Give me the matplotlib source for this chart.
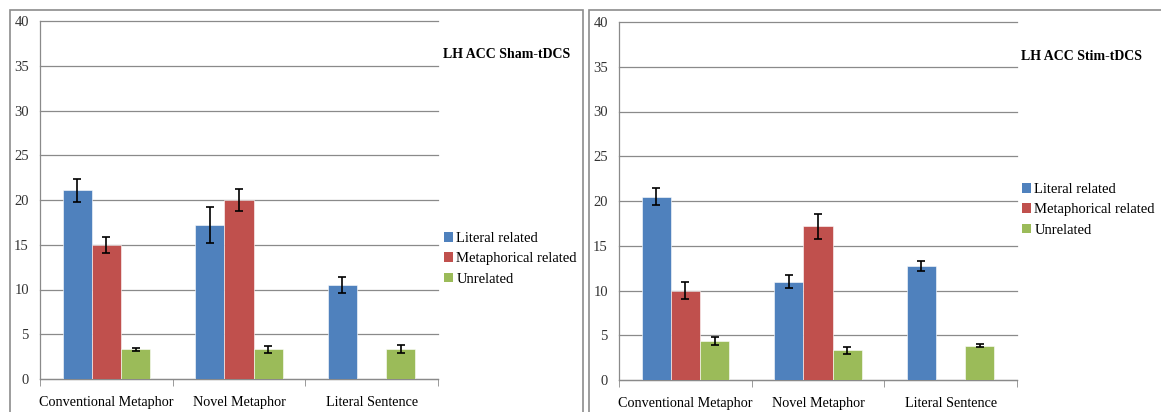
import numpy as np
import matplotlib
matplotlib.use("Agg")
import matplotlib.pyplot as plt
from matplotlib.patches import Patch, Rectangle

plt.rcParams['font.family'] = ['Liberation Serif', 'DejaVu Serif']

# conditions on the x axis
categories = ["Conventional Metaphor", "Novel Metaphor", "Literal Sentence"]
series = ["Literal related", "Metaphorical related", "Unrelated"]
colors = ["#4F81BD", "#C0504D", "#9BBB59"]

# sham session: means and error bars (no metaphorical prime for literal sentences)
sham_literal = [21.1, 17.2, 10.5]
sham_metaphor = [15.0, 20.0, np.nan]
sham_unrelated = [3.3, 3.3, 3.3]
sham_literal_err = [1.3, 2.0, 0.9]
sham_metaphor_err = [0.9, 1.25, np.nan]
sham_unrelated_err = [0.2, 0.4, 0.45]

# stimulation session
stim_literal = [20.5, 11.0, 12.7]
stim_metaphor = [10.0, 17.2, np.nan]
stim_unrelated = [4.4, 3.3, 3.85]
stim_literal_err = [0.9, 0.75, 0.55]
stim_metaphor_err = [0.9, 1.4, np.nan]
stim_unrelated_err = [0.45, 0.35, 0.15]

W, H = 1161, 412
fig = plt.figure(figsize=(W / 100, H / 100), dpi=100)

# grey frames around each chart
for x0, x1 in [(10, 583), (589, 1175)]:
    fig.patches.append(Rectangle((x0 / W, -0.1), (x1 - x0) / W, 1.1 - 10 / H,
                                 transform=fig.transFigure, fill=False,
                                 edgecolor="#8c8c8c", linewidth=1.2))


def draw_panel(rect, values, errors, title, title_xy, legend_xy):
    ax = fig.add_axes(rect)
    x = np.arange(len(categories))
    bw = 0.22
    for i, (vals, errs) in enumerate(zip(values, errors)):
        pos = x + (i - 1) * bw
        ax.bar(pos, vals, width=bw, color=colors[i], edgecolor="white",
               linewidth=0.4, zorder=3)
        ax.errorbar(pos, vals, yerr=errs, fmt="none", ecolor="black",
                    elinewidth=1.2, capsize=3, capthick=1.2, zorder=4)
    ax.set_xlim(-0.5, 2.5)
    ax.set_ylim(0, 40)
    ax.set_yticks(np.arange(0, 41, 5))
    ax.yaxis.grid(True, color="#8a8a8a", linewidth=0.9, zorder=0)
    for gl in ax.get_ygridlines():
        gl.set_clip_on(False)
    ax.set_xticks(x)
    ax.set_xticklabels(categories, fontsize=10.2)
    ax.set_xticks([-0.5, 0.5, 1.5, 2.5], minor=True)
    ax.tick_params(axis="x", which="major", length=0, pad=12)
    ax.tick_params(axis="x", which="minor", length=5, color="#8a8a8a", direction="out")
    ax.tick_params(axis="y", length=0, pad=8, labelsize=10.5, labelcolor="#333333")
    for s in ["top", "right"]:
        ax.spines[s].set_visible(False)
    for s in ["left", "bottom"]:
        ax.spines[s].set_color("#8a8a8a")
        ax.spines[s].set_linewidth(0.9)
    fig.text(title_xy[0] / W, 1 - title_xy[1] / H, title, fontsize=10,
             fontweight="bold", ha="left", va="center")
    handles = [Patch(facecolor=c, edgecolor="none") for c in colors]
    fig.legend(handles, series, loc="upper left",
               bbox_to_anchor=(legend_xy[0] / W, 1 - legend_xy[1] / H),
               bbox_transform=fig.transFigure, frameon=False, fontsize=10.5,
               handlelength=0.65, handleheight=0.65, handletextpad=0.2,
               labelspacing=0.5, borderpad=0, borderaxespad=0)
    return ax


draw_panel([40 / W, 1 - 379 / H, 398 / W, 358 / H],
           [sham_literal, sham_metaphor, sham_unrelated],
           [sham_literal_err, sham_metaphor_err, sham_unrelated_err],
           "LH ACC Sham-tDCS", (443, 55), (444, 232))
draw_panel([619 / W, 1 - 380 / H, 398 / W, 358 / H],
           [stim_literal, stim_metaphor, stim_unrelated],
           [stim_literal_err, stim_metaphor_err, stim_unrelated_err],
           "LH ACC Stim-tDCS", (1021, 57), (1022, 183))

fig.savefig("out.png", dpi=100)
